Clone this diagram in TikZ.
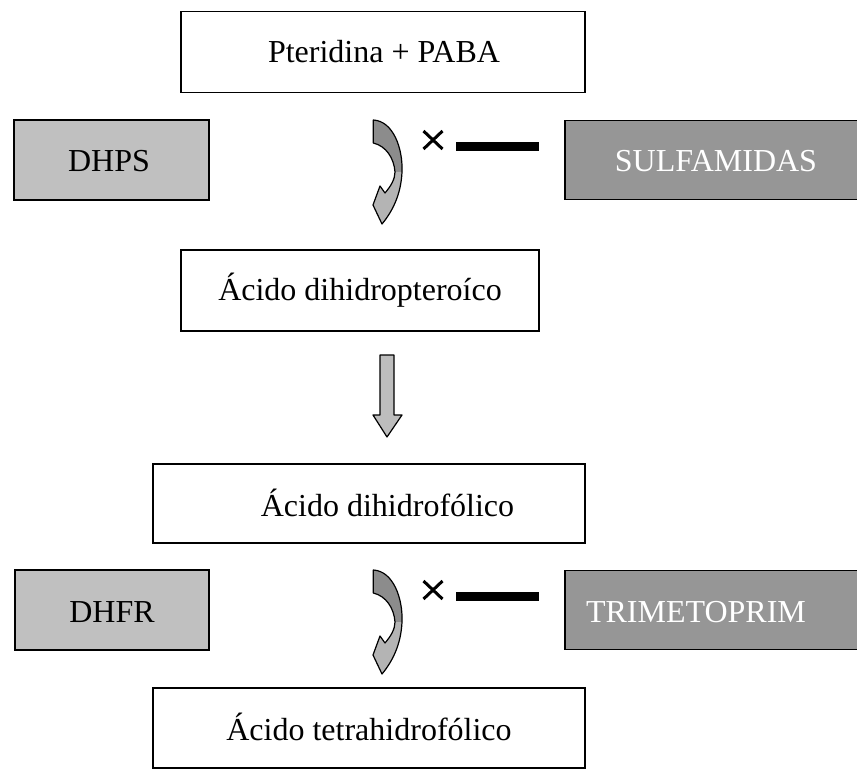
\documentclass[tikz,border=0pt]{standalone}
\usepackage{fontspec}
\setmainfont{Liberation Serif}
\definecolor{enzgray}{HTML}{C0C0C0}
\definecolor{druggray}{HTML}{969696}
\definecolor{arrgray}{HTML}{BDBDBD}
\definecolor{darkband}{HTML}{8C8C8C}
\definecolor{lightband}{HTML}{B4B4B4}
\begin{document}
\begin{tikzpicture}[x=1pt,y=-1pt,
  box/.style={draw=black,line width=1.6pt,rectangle,inner sep=0pt,fill=white},
  lbl/.style={anchor=base,inner sep=0pt,font=\fontsize{32}{36}\selectfont},
  outl/.style={draw=black,line width=1.2pt,line join=round}]
\clip (0,0) rectangle (857,778);
\fill[white] (0,0) rectangle (857,778);

% boxes
\node[box,minimum width=404pt,minimum height=81pt] (pter) at (383,52) {};
\node[box,fill=enzgray,minimum width=195pt,minimum height=80pt] (dhps) at (111.5,160) {};
\node[box,fill=druggray,minimum width=315pt,minimum height=79pt] (sulf) at (722.5,160) {};
\node[box,minimum width=358pt,minimum height=81pt] (dhpt) at (360,290.5) {};
\node[box,minimum width=432pt,minimum height=79pt] (dhf) at (369,503.5) {};
\node[box,fill=enzgray,minimum width=194pt,minimum height=80pt] (dhfr) at (112,610) {};
\node[box,fill=druggray,minimum width=315pt,minimum height=79pt] (tmp) at (722.5,610) {};
\node[box,minimum width=432pt,minimum height=80pt] (thf) at (369,728) {};

% labels
\node[lbl] (tpter) at (384,63) {Pteridina + PABA};
\node[lbl] (tdhps) at (109,172) {DHPS};
\node[lbl,text=white] (tsulf) at (716,172) {SULFAMIDAS};
\node[lbl] (tdhpt) at (360,301) {Ácido dihidropteroíco};
\node[lbl] (tdhf) at (387.5,516) {Ácido dihidrofólico};
\node[lbl] (tdhfr) at (112,622) {DHFR};
\node[lbl,text=white] (ttmp) at (696,622) {TRIMETOPRIM};
\node[lbl] (tthf) at (369,740) {Ácido tetrahidrofólico};

% straight down arrow
\draw[outl,fill=arrgray] (380,355) -- (394,355) -- (394,415) -- (402,415)
  -- (387,437) -- (373,415) -- (380,415) -- cycle;

% curved arrows with inhibition marks
\foreach \dy in {0,450}{
\begin{scope}[shift={(0,\dy)}]
  % dark upper band
  \fill[darkband] (373.3,120) .. controls (393,121) and (403,148) .. (402,172)
    -- (395,172) .. controls (394,158) and (386,146) .. (373.3,143) -- cycle;
  % light lower band with head
  \fill[lightband] (402,172) .. controls (401,195) and (392,212) .. (382,224)
    -- (373,205) -- (380,186) -- (385,193)
    .. controls (391,186) and (395,179) .. (395,172) -- cycle;
  % outline
  \draw[outl] (373.3,120) .. controls (393,121) and (403,148) .. (402,172)
    .. controls (401,195) and (392,212) .. (382,224)
    -- (373,205) -- (380,186) -- (385,193)
    .. controls (391,186) and (395,179) .. (395,172)
    .. controls (394,158) and (386,146) .. (373.3,143) -- cycle;
  % cross
  \draw[black,line width=3pt] (423.5,131) -- (442.5,149) (423.5,149) -- (442.5,131);
  % bar
  \fill[black] (456,142) rectangle (539,151);
\end{scope}
}
\end{tikzpicture}
\end{document}
